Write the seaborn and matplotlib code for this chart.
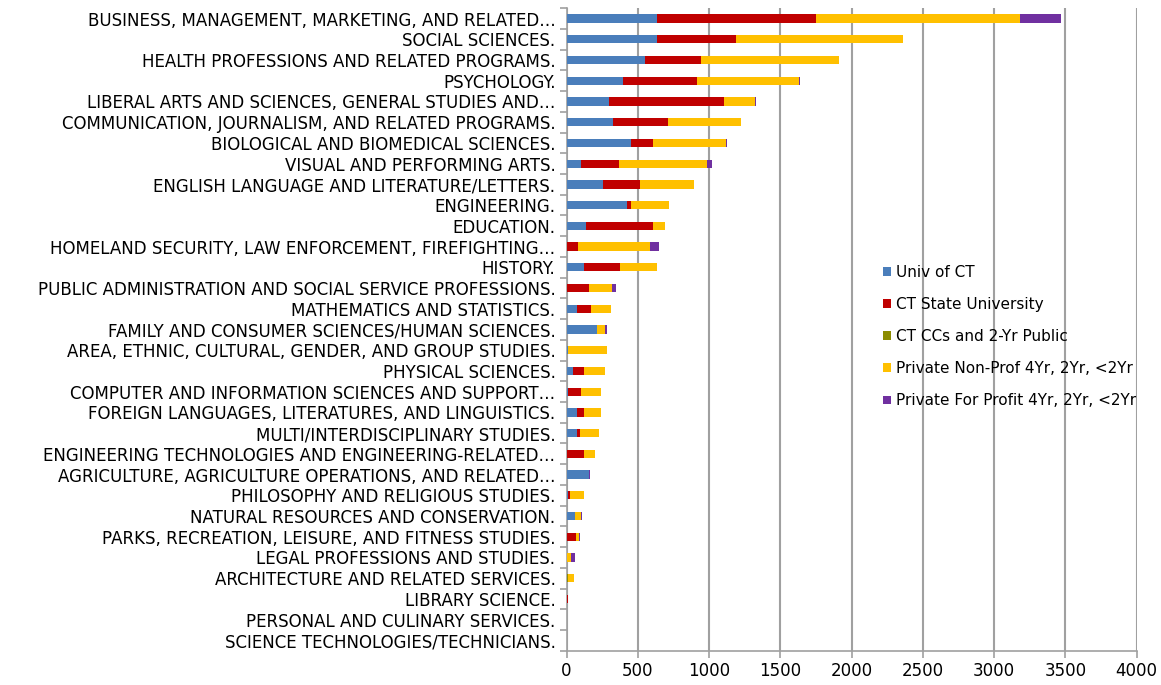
import numpy as np
import pandas as pd
import matplotlib.pyplot as plt
import seaborn as sns

# categories (top to bottom)
categories = [
    "BUSINESS, MANAGEMENT, MARKETING, AND RELATED…",
    "SOCIAL SCIENCES.",
    "HEALTH PROFESSIONS AND RELATED PROGRAMS.",
    "PSYCHOLOGY.",
    "LIBERAL ARTS AND SCIENCES, GENERAL STUDIES AND…",
    "COMMUNICATION, JOURNALISM, AND RELATED PROGRAMS.",
    "BIOLOGICAL AND BIOMEDICAL SCIENCES.",
    "VISUAL AND PERFORMING ARTS.",
    "ENGLISH LANGUAGE AND LITERATURE/LETTERS.",
    "ENGINEERING.",
    "EDUCATION.",
    "HOMELAND SECURITY, LAW ENFORCEMENT, FIREFIGHTING…",
    "HISTORY.",
    "PUBLIC ADMINISTRATION AND SOCIAL SERVICE PROFESSIONS.",
    "MATHEMATICS AND STATISTICS.",
    "FAMILY AND CONSUMER SCIENCES/HUMAN SCIENCES.",
    "AREA, ETHNIC, CULTURAL, GENDER, AND GROUP STUDIES.",
    "PHYSICAL SCIENCES.",
    "COMPUTER AND INFORMATION SCIENCES AND SUPPORT…",
    "FOREIGN LANGUAGES, LITERATURES, AND LINGUISTICS.",
    "MULTI/INTERDISCIPLINARY STUDIES.",
    "ENGINEERING TECHNOLOGIES AND ENGINEERING-RELATED…",
    "AGRICULTURE, AGRICULTURE OPERATIONS, AND RELATED…",
    "PHILOSOPHY AND RELIGIOUS STUDIES.",
    "NATURAL RESOURCES AND CONSERVATION.",
    "PARKS, RECREATION, LEISURE, AND FITNESS STUDIES.",
    "LEGAL PROFESSIONS AND STUDIES.",
    "ARCHITECTURE AND RELATED SERVICES.",
    "LIBRARY SCIENCE.",
    "PERSONAL AND CULINARY SERVICES.",
    "SCIENCE TECHNOLOGIES/TECHNICIANS.",
]

univ_ct = [634, 634, 551, 398, 298, 328, 450, 101, 253, 424, 138, 0, 119, 0, 75,
           213, 12, 45, 12, 75, 75, 0, 155, 12, 59, 0, 0, 0, 0, 0, 0]
ct_state = [1114, 554, 391, 518, 808, 387, 157, 267, 265, 31, 469, 80, 254, 157, 96,
            0, 0, 77, 89, 44, 19, 119, 0, 9, 0, 63, 0, 0, 12, 0, 0]
ct_ccs = [0, 0, 0, 0, 0, 0, 0, 0, 0, 0, 0, 0, 0, 0, 0,
          0, 0, 0, 0, 0, 0, 0, 0, 0, 0, 0, 0, 8, 0, 0, 0]
private_np = [1435, 1171, 968, 717, 215, 506, 513, 618, 375, 264, 82, 508, 264, 164, 138,
              56, 271, 150, 138, 120, 133, 78, 0, 101, 44, 26, 33, 41, 0, 0, 0]
private_fp = [285, 0, 0, 7, 7, 0, 5, 33, 0, 0, 0, 59, 0, 26, 0,
              17, 0, 0, 0, 0, 0, 0, 7, 0, 5, 7, 26, 0, 0, 0, 0]

series = ["Univ of CT", "CT State University", "CT CCs and 2-Yr Public",
          "Private Non-Prof 4Yr, 2Yr, <2Yr", "Private For Profit 4Yr, 2Yr, <2Yr"]
colors = ["#4A7EBB", "#C00000", "#8C8C00", "#FFC000", "#7030A0"]

df = pd.DataFrame({"category": categories})
values = [univ_ct, ct_state, ct_ccs, private_np, private_fp]
cum = np.cumsum(np.array(values), axis=0)

fig, ax = plt.subplots(figsize=(11.61, 6.85), dpi=100)
fig.subplots_adjust(left=0.488, right=0.979, top=0.988, bottom=0.05)

# draw cumulative bars back to front so they look stacked
for i in range(len(series) - 1, -1, -1):
    df["total"] = cum[i]
    sns.barplot(data=df, x="total", y="category", color=colors[i], width=0.4,
                saturation=1, linewidth=0, label=series[i], ax=ax, zorder=3)

ax.set_xlim(0, 4000)
ax.set_xticks(range(0, 4001, 500))
ax.set_ylim(len(categories) - 0.5, -0.5)
ax.set_xlabel("")
ax.set_ylabel("")

ax.grid(axis="x", color="#A0A0A0", linewidth=1.5, zorder=0)
ax.grid(axis="y", visible=False)
for side in ["top", "right"]:
    ax.spines[side].set_visible(False)
for side in ["left", "bottom"]:
    ax.spines[side].set_color("#A0A0A0")
    ax.spines[side].set_linewidth(1.2)

ax.tick_params(axis="y", length=0, labelsize=12, pad=8)
ax.set_yticks(np.arange(-0.5, len(categories), 1), minor=True)
ax.tick_params(axis="y", which="minor", length=5, color="#A0A0A0", width=1.2)
ax.tick_params(axis="x", length=5, color="#A0A0A0", width=1.2, labelsize=12, pad=3)

handles, labels = ax.get_legend_handles_labels()
order = sorted(range(len(labels)), key=lambda k: series.index(labels[k]))
ax.legend([handles[k] for k in order], [labels[k] for k in order],
          loc="upper left", bbox_to_anchor=(0.531, 0.622), frameon=False,
          handlelength=0.5, handleheight=0.5, handletextpad=0.35,
          labelspacing=1.12, fontsize=11)

plt.savefig("out.png", dpi=100)
